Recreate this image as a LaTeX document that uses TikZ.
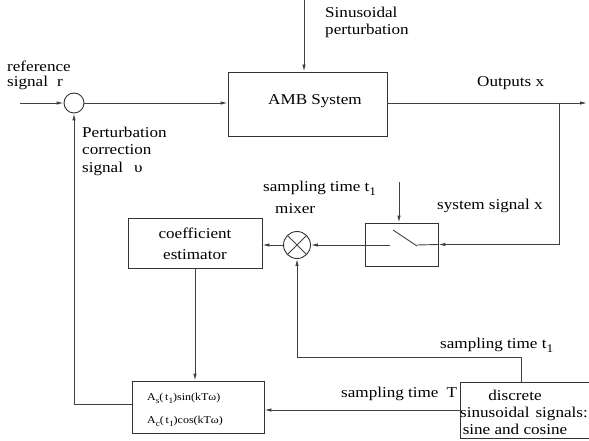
\documentclass[tikz,border=0pt]{standalone}
\usepackage{fontspec}
\setmainfont{Liberation Serif}[FakeStretch=1.14]
\usetikzlibrary{arrows.meta}
\newcommand{\lowsub}[1]{\raisebox{-0.33em}{\scalebox{0.78}{#1}}}
\begin{document}
\begin{tikzpicture}[x=1pt,y=-1pt,
 line/.style={draw=black!75, line width=0.9pt},
 arr/.style={line, -{Latex[length=7pt,width=3.5pt]}},
 blk/.style={draw=black!80, line width=0.9pt, rectangle, inner sep=0},
 txt/.style={font=\fontsize{15}{17}\selectfont, inner sep=0, anchor=base west},
 stxt/.style={font=\fontsize{10.5}{12}\selectfont, inner sep=0, anchor=base west}]
\useasboundingbox (0,0) rectangle (589,441);

% blocks
\node[blk, circle, minimum size=20pt] (sum) at (74,103) {};
\node[blk, minimum width=159pt, minimum height=64pt] (amb) at (307.5,104) {};
\node[blk, minimum width=73pt, minimum height=43pt] (sw) at (401.5,244.5) {};
\node[blk, circle, minimum size=27pt] (mix) at (297,245) {};
\node[blk, minimum width=134pt, minimum height=50pt] (coef) at (195,243) {};
\node[blk, minimum width=132pt, minimum height=52pt] (abox) at (198,407) {};
\node[blk, minimum width=140pt, minimum height=56pt] (disc) at (530,410) {};

% coordinates
\coordinate (in) at (20,103);
\coordinate (out) at (587,103);
\coordinate (br) at (559,103);
\coordinate (pert) at (304,0);
\coordinate (s1) at (399,182);
\coordinate (swl) at (390,245);
\coordinate (swa) at (393,230);
\coordinate (swb) at (417,246);
\coordinate (swr) at (417,245);
\coordinate (dt) at (521,382);

% connectors
\draw[arr] (in) -- (sum.west);
\draw[arr] (sum.east) -- (sum.east -| amb.west);
\draw[arr] (pert) -- (pert |- amb.north);
\draw[arr] (sum -| amb.east) -- (out);
\draw[arr] (br) |- (sw.east);
\draw[arr] (s1) -- (s1 |- sw.north);
\draw[line] (swa) -- (swb);
\draw[line] (swr) -- (sw.east);
\draw[arr] (swl) -- (mix.east);
\draw[line] (mix.north west) -- (mix.south east);
\draw[line] (mix.north east) -- (mix.south west);
\draw[arr] (mix.west) -- (mix.west -| coef.east);
\draw[arr] (coef.south) -- (coef.south |- abox.north);
\draw[arr] (disc.west) -- (disc.west -| abox.east);
\draw[arr] (dt) -- ++(0,-25) -| (mix.south);
\draw[arr] ([yshift=3pt]abox.west) -| (sum.south);

% labels
\node[txt] (ref1) at (7,72) {reference};
\node[txt] (ref2) at (7,87) {signal\hspace{9pt}r};
\node[txt] (sp1) at (325,18) {Sinusoidal};
\node[txt] (sp2) at (325,35) {perturbation};
\node[txt] (ambt) at (268,105) {AMB System};
\node[txt] (outt) at (477,87) {Outputs x};
\node[txt] (pc1) at (82,138) {Perturbation};
\node[txt] (pc2) at (82,155) {correction};
\node[txt] (pc3) at (82,172) {signal\hspace{11pt}υ};
\node[txt] (st1) at (263,191) {sampling time\hspace{4pt}t\lowsub{1}};
\node[txt] (sys) at (437,209) {system signal x};
\node[txt] (mixt) at (275,213) {mixer};
\node[txt, anchor=base] (ce1) at (195,238) {coefficient};
\node[txt, anchor=base] (ce2) at (195,259) {estimator};
\node[stxt] (a1) at (147,400) {A\lowsub{s}(\,t\lowsub{1})sin(kTω)};
\node[stxt] (a2) at (147,423) {A\lowsub{c}(\,t\lowsub{1})cos(kTω)};
\node[txt] (st2) at (440,348) {sampling time t\lowsub{1}};
\node[txt] (stT) at (341,397) {sampling time\hspace{8pt}T};
\node[txt, anchor=base] (d1) at (515,400) {discrete};
\node[txt, anchor=base] (d2) at (524,417) {sinusoidal\hspace{6pt}signals:};
\node[txt, anchor=base] (d3) at (515,434) {sine and cosine};
\end{tikzpicture}
\end{document}
